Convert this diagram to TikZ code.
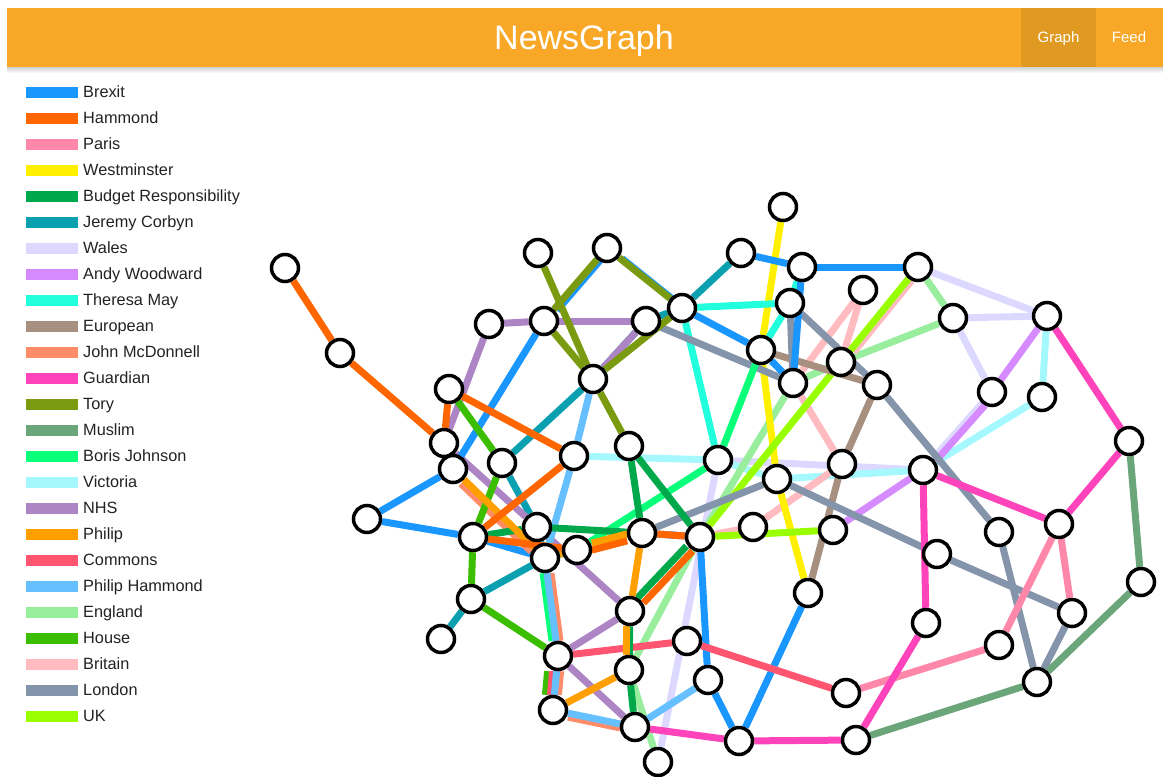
\documentclass[tikz,border=0pt]{standalone}
\usepackage{fontspec}
\setmainfont{Liberation Sans}
\usetikzlibrary{backgrounds}

\definecolor{bar}{HTML}{F8A826}
\definecolor{bartab}{HTML}{E09A22}
\definecolor{ink}{HTML}{222222}
\definecolor{brexit}{HTML}{1A96FF}
\definecolor{hammond}{HTML}{FF6600}
\definecolor{paris}{HTML}{FF88AA}
\definecolor{westminster}{HTML}{FFF000}
\definecolor{budget}{HTML}{00A84C}
\definecolor{corbyn}{HTML}{0AA0B0}
\definecolor{wales}{HTML}{DDD8FF}
\definecolor{woodward}{HTML}{D68AFF}
\definecolor{may}{HTML}{22FFDD}
\definecolor{european}{HTML}{A89080}
\definecolor{mcdonnell}{HTML}{FF8C69}
\definecolor{guardian}{HTML}{FF44BB}
\definecolor{tory}{HTML}{7A9A10}
\definecolor{muslim}{HTML}{6BA57A}
\definecolor{boris}{HTML}{0AFF7A}
\definecolor{victoria}{HTML}{A6F8FF}
\definecolor{nhs}{HTML}{AD84C4}
\definecolor{philip}{HTML}{FFA000}
\definecolor{commons}{HTML}{FF5570}
\definecolor{philiphammond}{HTML}{66C0FF}
\definecolor{england}{HTML}{99EE9E}
\definecolor{house}{HTML}{3CBE00}
\definecolor{britain}{HTML}{FFBBC0}
\definecolor{london}{HTML}{8494AB}
\definecolor{uk}{HTML}{99FF00}

\tikzset{
  topic/.style={circle, draw=black, fill=white, line width=3.5pt, minimum size=27pt, inner sep=0pt},
  link/.style={line width=7pt},
  nudge/.style={transform canvas={shift={#1}}},
  key/.style={anchor=base west, inner sep=0pt, text=ink, font=\fontsize{16.3}{18}\selectfont}
}

\begin{document}
\begin{tikzpicture}[x=1pt, y=-1pt]
    \useasboundingbox (0,0) rectangle (1163,777);
    % header
    \shade [top color=black!18, bottom color=white] (7,67) rectangle (1163,73);
    \fill [bar] (7,8) rectangle (1163,67);
    \fill [bartab] (1021,8) rectangle (1096,67);
    \node [anchor=base, text=white, font=\fontsize{34}{40}\selectfont] (title) at (584,49) {NewsGraph};
    \node [anchor=base, text=white, font=\fontsize{15}{18}\selectfont] (graph) at (1058.5,42) {Graph};
    \node [anchor=base, text=white, font=\fontsize{15}{18}\selectfont] (feed) at (1129,42) {Feed};
    % legend
    \foreach \c/\t [count=\i from 0] in {brexit/Brexit, hammond/Hammond, paris/Paris, westminster/Westminster,
        budget/Budget Responsibility, corbyn/Jeremy Corbyn, wales/Wales, woodward/Andy Woodward,
        may/Theresa May, european/European, mcdonnell/John McDonnell, guardian/Guardian, tory/Tory,
        muslim/Muslim, boris/Boris Johnson, victoria/Victoria, nhs/NHS, philip/Philip, commons/Commons,
        philiphammond/Philip Hammond, england/England, house/House, britain/Britain, london/London, uk/UK}
    {
        \fill [fill=\c] (26,86.5+26*\i) rectangle (78,97.5+26*\i);
        \node [key] (key\i) at (83,97.5+26*\i) {\t};
    }
    % topics
    \foreach \n/\x/\y in {1/285/268, 2/340/353, 3/538/253, 4/607/248, 5/783/207, 6/741/253, 7/802/267,
        8/918/267, 9/489/324, 10/544/321, 11/646/321, 12/682/308, 13/790/303, 14/863/290, 15/953/318,
        16/1047/316, 17/761/350, 18/841/362, 19/793/383, 20/877/385, 21/449/389, 22/593/379, 23/992/392,
        24/1042/397, 25/1129/441, 26/444/443, 27/453/469, 28/502/463, 29/574/456, 30/629/446, 31/718/460,
        32/842/464, 33/923/470, 34/777/479, 35/367/519, 36/473/537, 37/537/527, 38/545/558, 39/577/550,
        40/642/533, 41/700/537, 42/753/527, 43/833/530, 44/937/554, 45/999/532, 46/1059/524, 47/1141/582,
        48/808/593, 49/471/599, 50/630/611, 51/1072/613, 52/441/639, 53/926/623, 54/558/656, 55/687/641,
        56/629/670, 57/999/645, 58/708/680, 59/846/693, 60/1037/682, 61/553/710, 62/635/727, 63/739/741,
        64/856/740, 65/658/762}
    \node [topic] (v\n) at (\x,\y) {};
    % links, under the topics
    \begin{pgfonlayer}{background}
    \foreach \a/\b in {8/16, 15/16, 15/23, 23/33, 33/31, 31/65}
    \draw [link, color=wales] (v\a) -- (v\b);
    \foreach \a/\b in {16/24, 24/33, 33/34, 34/31, 31/29}
    \draw [link, color=victoria] (v\a) -- (v\b);
    \foreach \a/\b in {8/15, 15/18, 18/19, 19/41, 41/56, 56/65}
    \draw [link, color=england] (v\a) -- (v\b);
    \foreach \a/\b in {14/19, 14/18, 19/32, 32/42, 42/41, 41/40}
    \draw [link, color=britain] (v\a) -- (v\b);
    \draw [link, color=britain, nudge={(3,2)}] (v8) -- (v18);
    \foreach \a/\b in {5/17, 17/34, 34/48}
    \draw [link, color=westminster] (v\a) -- (v\b);
    \foreach \a/\b in {8/18, 18/41, 41/43}
    \draw [link, color=uk] (v\a) -- (v\b);
    \foreach \a/\b in {16/23, 33/43}
    \draw [link, color=woodward] (v\a) -- (v\b);
    \draw [link, color=woodward, nudge={(3,2)}] (v23) -- (v33);
    \foreach \a/\b in {12/13, 12/31, 7/13, 13/17}
    \draw [link, color=may] (v\a) -- (v\b);
    \foreach \a/\b in {17/20, 20/32, 32/48}
    \draw [link, color=european] (v\a) -- (v\b);
    \foreach \a/\b in {11/19, 13/19, 13/20, 20/45, 45/60, 60/51, 51/44, 44/34, 34/40}
    \draw [link, color=london] (v\a) -- (v\b);
    \foreach \a/\b in {6/12, 12/11, 11/22, 22/28, 28/37, 37/38, 38/49, 49/52}
    \draw [link, color=corbyn] (v\a) -- (v\b);
    \foreach \a/\b in {9/10, 10/11, 9/26, 22/11, 26/37, 37/50, 50/54, 54/62}
    \draw [link, color=nhs] (v\a) -- (v\b);
    \foreach \a/\b in {35/27, 27/10, 35/36, 36/38, 12/17, 17/19, 19/7, 6/7, 7/8, 40/41, 41/58, 58/63, 63/48}
    \draw [link, color=brexit] (v\a) -- (v\b);
    \foreach \a/\b in {4/10, 4/12}
    \draw [link, color=brexit, nudge={(3,1)}] (v\a) -- (v\b);
    \foreach \a/\b in {3/22, 4/10, 10/22, 22/30, 22/12, 4/12}
    \draw [link, color=tory] (v\a) -- (v\b);
    % the bundle between v27, v38, v54, v61 and v62
    \draw [link, color=mcdonnell, nudge={(-3,4)}] (v27) -- (v38);
    \draw [link, color=mcdonnell, nudge={(4,0)}] (v38) -- (v54);
    \draw [link, color=mcdonnell, nudge={(4,0)}] (v54) -- (v61);
    \draw [link, color=mcdonnell, nudge={(0,4)}] (v61) -- (v62);
    \foreach \a/\b in {17/31, 31/39, 39/38}
    \draw [link, color=boris] (v\a) -- (v\b);
    \draw [link, color=boris, nudge={(-4,0)}] (v38) -- (v54);
    \foreach \a/\b in {21/28, 28/36, 36/49, 49/54}
    \draw [link, color=house] (v\a) -- (v\b);
    \draw [link, color=house, nudge={(-9,0)}] (v54) -- (v61);
    \foreach \a/\b in {54/55, 55/59}
    \draw [link, color=commons] (v\a) -- (v\b);
    \draw [link, color=commons, nudge={(-4,0)}] (v54) -- (v61);
    \foreach \a/\b in {22/29, 29/38, 38/54, 54/61, 61/62, 62/58}
    \draw [link, color=philiphammond] (v\a) -- (v\b);
    \foreach \a/\b in {59/57, 57/46, 46/51}
    \draw [link, color=paris] (v\a) -- (v\b);
    \foreach \a/\b in {16/25, 25/46, 46/33, 33/53, 53/64, 64/63, 63/62}
    \draw [link, color=guardian] (v\a) -- (v\b);
    \foreach \a/\b in {25/47, 47/60, 60/64}
    \draw [link, color=muslim] (v\a) -- (v\b);
    \foreach \a/\b in {36/37, 37/40, 30/40, 30/41, 50/56, 56/62}
    \draw [link, color=budget] (v\a) -- (v\b);
    \draw [link, color=budget, nudge={(-3,-2)}] (v41) -- (v50);
    \foreach \a/\b in {27/38, 38/39, 40/50, 56/61}
    \draw [link, color=philip] (v\a) -- (v\b);
    \draw [link, color=philip, nudge={(0,-3)}] (v39) -- (v40);
    \draw [link, color=philip, nudge={(-3,0)}] (v50) -- (v56);
    \foreach \a/\b in {1/2, 2/26, 26/21, 21/29, 29/36, 36/39, 40/41}
    \draw [link, color=hammond] (v\a) -- (v\b);
    \draw [link, color=hammond, nudge={(0,4)}] (v39) -- (v40);
    \draw [link, color=hammond, nudge={(3,3)}] (v41) -- (v50);
    \end{pgfonlayer}
\end{tikzpicture}
\end{document}
